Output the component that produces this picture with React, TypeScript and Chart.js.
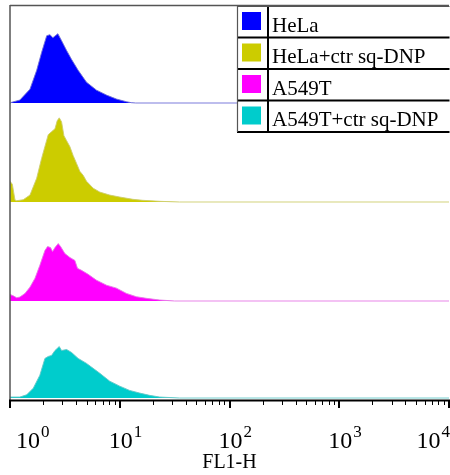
import React, { useEffect, useRef } from "react";
import { Chart, registerables } from "chart.js";

Chart.register(...registerables);

// ---- data ----
const seriesLabels = ["HeLa", "HeLa+ctr sq-DNP", "A549T", "A549T+ctr sq-DNP"];
const seriesColors = ["#0000ff", "#cccc00", "#ff00ff", "#00cccc"];
const baselineColors = ["rgba(110,110,215,0.9)", "rgba(205,205,110,0.9)", "rgba(230,120,230,0.9)", "rgba(100,200,200,0.9)"];
const laneOffsets = [298, 198, 98, 0];

const helaFL1 = [1.0, 1.02, 1.23, 1.52, 1.75, 1.94, 2.16, 2.31, 2.46, 2.73, 2.95, 3.28, 3.64, 4.18, 4.98, 6.14, 7.57, 9.33, 11.5, 12.8, 14, 10000];
const helaCounts = [0, 0.5, 3, 14, 33, 51, 68, 69, 66, 70, 63, 53, 44, 33, 21, 13, 8, 4, 1.3, 0.3, 0, 0];

const helaDnpFL1 = [1.0, 1.02, 1.05, 1.11, 1.15, 1.32, 1.52, 1.75, 1.94, 2.23, 2.39, 2.57, 2.69, 2.81, 2.95, 3.1, 3.28, 3.51, 3.76, 4.04, 4.33, 4.64, 4.98, 5.72, 6.58, 8.11, 10, 13.2, 16.2, 23.1, 35, 10000];
const helaDnpCounts = [21, 21, 18, 2, 1.3, 2.3, 7, 24, 44, 68, 71, 74, 82, 85, 81, 67, 62, 56, 47, 39, 31, 27, 21, 14, 10, 7, 5, 2.7, 1.7, 0.7, 0, 0];

const a549FL1 = [1.0, 1.02, 1.07, 1.15, 1.23, 1.37, 1.52, 1.69, 1.87, 2.08, 2.2, 2.34, 2.44, 2.57, 2.75, 2.89, 3.16, 3.51, 3.9, 4.12, 4.48, 5.15, 6.14, 7.57, 9.33, 11.5, 14.2, 17.5, 23.1, 31.6, 10000];
const a549Counts = [6.7, 6.7, 5.3, 3.3, 4, 7.7, 14, 23, 36, 51, 55, 54, 50, 54, 58, 55, 48, 44, 41, 33, 31, 27, 21, 16, 13, 7.7, 4.3, 2.7, 1, 0, 0];

const a549DnpFL1 = [1.0, 1.02, 1.23, 1.42, 1.63, 1.87, 2.08, 2.23, 2.39, 2.57, 2.81, 2.95, 3.28, 3.64, 4.18, 4.98, 5.72, 6.58, 8.11, 10, 12.3, 15.2, 18.7, 23.1, 35, 10000];
const a549DnpCounts = [1, 1, 1, 3.3, 10, 23, 40, 42, 43, 48, 52, 48, 49, 46, 40, 35, 30, 25, 17, 12, 7.7, 5, 2.7, 1, 0, 0];

const seriesX = [helaFL1, helaDnpFL1, a549FL1, a549DnpFL1];
const seriesY = [helaCounts, helaDnpCounts, a549Counts, a549DnpCounts];

const decadeValues = [1, 10, 100, 1000, 10000];
const decadeExponents = ["0", "1", "2", "3", "4"];
const minorMultipliers = [2, 3, 4, 5, 6, 7, 8, 9];
const axisTitle = "FL1-H";

const SERIF = "'Liberation Serif', 'Times New Roman', serif";

const framePlugin = {
  id: "framePlugin",
  afterDraw(chart: any) {
    const ctx: CanvasRenderingContext2D = chart.ctx;
    const { left, right, top, bottom } = chart.chartArea;
    const xs = chart.scales.x;
    ctx.save();

    // top border and left axis
    ctx.strokeStyle = "#555";
    ctx.lineWidth = 1.5;
    ctx.beginPath();
    ctx.moveTo(left, top + 0.5);
    ctx.lineTo(right, top + 0.5);
    ctx.moveTo(left, top);
    ctx.lineTo(left, bottom);
    ctx.stroke();

    // bottom axis
    ctx.strokeStyle = "#000";
    ctx.lineWidth = 2;
    ctx.beginPath();
    ctx.moveTo(left - 1, bottom - 0.5);
    ctx.lineTo(right + 1, bottom - 0.5);
    ctx.stroke();

    // ticks
    for (let i = 0; i < decadeValues.length; i++) {
      const px = Math.round(xs.getPixelForValue(decadeValues[i]));
      ctx.lineWidth = 2;
      ctx.beginPath();
      ctx.moveTo(px, bottom - 1);
      ctx.lineTo(px, bottom + 7);
      ctx.stroke();
      if (i < decadeValues.length - 1) {
        ctx.lineWidth = 1;
        for (const m of minorMultipliers) {
          const mx = Math.round(xs.getPixelForValue(decadeValues[i] * m)) + 0.5;
          ctx.beginPath();
          ctx.moveTo(mx, bottom - 1);
          ctx.lineTo(mx, bottom + 4);
          ctx.stroke();
        }
      }
    }

    // tick labels 10^n
    ctx.fillStyle = "#000";
    ctx.textBaseline = "alphabetic";
    ctx.textAlign = "left";
    const baseFont = `24px ${SERIF}`;
    const expFont = `17px ${SERIF}`;
    for (let i = 0; i < decadeValues.length; i++) {
      const px = xs.getPixelForValue(decadeValues[i]);
      ctx.font = baseFont;
      const w1 = ctx.measureText("10").width;
      ctx.font = expFont;
      const w2 = ctx.measureText(decadeExponents[i]).width;
      let start = px - w1 / 2 + 1;
      if (start < 16) start = 16;
      if (start + w1 + w2 + 1 > chart.width) start = chart.width - w1 - w2 - 1;
      ctx.font = baseFont;
      ctx.fillText("10", start, 448);
      ctx.font = expFont;
      ctx.fillText(decadeExponents[i], start + w1 + 1, 437);
    }

    // axis title
    ctx.font = `20px ${SERIF}`;
    ctx.textAlign = "center";
    ctx.fillText(axisTitle, (left + right) / 2, 468);

    // legend table
    const lx = 237;
    const lr = chart.width - 0.5;
    const ly = 6;
    const rowH = 31.5;
    const divX = 268;
    const n = seriesLabels.length;
    ctx.fillStyle = "#fff";
    ctx.fillRect(lx, ly, lr - lx, rowH * n);
    for (let i = 0; i < n; i++) {
      const rt = ly + i * rowH;
      ctx.fillStyle = seriesColors[i];
      ctx.fillRect(lx + 5, rt + 6, 19, 18);
      ctx.fillStyle = "#000";
      ctx.font = `21px ${SERIF}`;
      ctx.textAlign = "left";
      ctx.fillText(seriesLabels[i], 272, rt + 25.5);
    }
    ctx.strokeStyle = "#000";
    ctx.lineWidth = 2;
    ctx.beginPath();
    for (let i = 1; i <= n; i++) {
      ctx.moveTo(lx, ly + i * rowH);
      ctx.lineTo(lr, ly + i * rowH);
    }
    ctx.moveTo(divX, ly);
    ctx.lineTo(divX, ly + n * rowH);
    ctx.stroke();
    ctx.strokeStyle = "#555";
    ctx.lineWidth = 1.2;
    ctx.beginPath();
    ctx.moveTo(lx + 0.5, ly + rowH * n);
    ctx.lineTo(lx + 0.5, ly + 0.5);
    ctx.lineTo(lr, ly + 0.5);
    ctx.stroke();

    ctx.restore();
  },
};

export default function App() {
  const canvasRef = useRef<HTMLCanvasElement | null>(null);

  useEffect(() => {
    document.body.style.margin = "0";
    const canvas = canvasRef.current;
    if (!canvas) return;
    const datasets = seriesLabels.map((label, i) => ({
      label,
      data: seriesX[i].map((x, j) => ({ x, y: laneOffsets[i] + seriesY[i][j] })),
      backgroundColor: seriesColors[i],
      borderColor: baselineColors[i],
      borderWidth: 1,
      pointRadius: 0,
      tension: 0,
      fill: { value: laneOffsets[i] },
    }));
    const chart = new Chart(canvas, {
      type: "line",
      data: { datasets },
      options: {
        animation: false,
        responsive: false,
        layout: { padding: { left: 10, right: 1, top: 5, bottom: 74 } },
        plugins: { legend: { display: false }, tooltip: { enabled: false } },
        scales: {
          x: { type: "logarithmic", min: 1, max: 10000, display: false },
          y: { type: "linear", min: -3, max: 397, display: false },
        },
      },
      plugins: [framePlugin],
    } as any);
    return () => chart.destroy();
  }, []);

  return (
    <div style={{ width: 450, height: 475 }}>
      <canvas ref={canvasRef} width={450} height={475} style={{ display: "block" }} />
    </div>
  );
}
